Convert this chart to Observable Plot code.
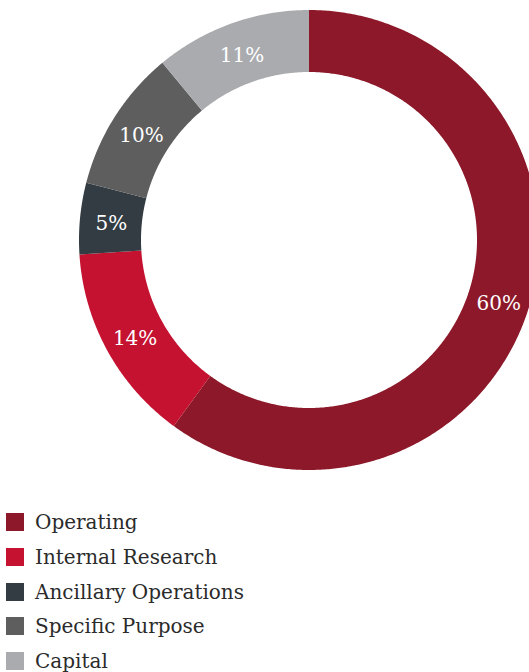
<!DOCTYPE html>
<html>
<head>
<meta charset="utf-8">
<script src="https://cdn.jsdelivr.net/npm/d3@7"></script>
<script src="https://cdn.jsdelivr.net/npm/@observablehq/plot@0.6"></script>
<style>
  html, body { margin: 0; padding: 0; background: #fff; }
  #chart svg { display: block; }
  .legend { font-family: "DejaVu Serif", serif; font-size: 20px; color: #2b2b2b; margin: 0; padding: 0; }
  .legend .row { display: flex; align-items: center; height: 34.7px; }
  .legend .sw { width: 18px; height: 18px; margin-left: 6px; margin-right: 11px; flex: none; }
</style>
</head>
<body>
<div id="chart"></div>
<script>
const categories = ["Operating", "Internal Research", "Ancillary Operations", "Specific Purpose", "Capital"];
const values = [60, 14, 5, 10, 11];
const colors = ["#8C1829", "#C41230", "#323C42", "#5E5E5E", "#AAABAE"];

const W = 529, H = 500;
const CX = 309, CY = 240;
const R_OUT = 230, R_IN = 168;

const pie = d3.pie().sort(null).value(d => d.value);
const arcs = pie(categories.map((c, i) => ({category: c, value: values[i]})));

// ring-sector outlines (outer edge & inner edge) for Plot.area
const ring = [];
for (const a of arcs) {
  const n = Math.max(2, Math.ceil((a.endAngle - a.startAngle) / (Math.PI / 360)));
  for (let k = 0; k <= n; k++) {
    const t = a.startAngle + (a.endAngle - a.startAngle) * k / n;
    ring.push({
      category: a.data.category,
      xo: R_OUT * Math.sin(t), yo: R_OUT * Math.cos(t),
      xi: R_IN * Math.sin(t), yi: R_IN * Math.cos(t)
    });
  }
}
const labels = arcs.map(a => {
  const t = (a.startAngle + a.endAngle) / 2, r = (R_OUT + R_IN) / 2;
  return {label: a.data.value + "%", x: r * Math.sin(t), y: r * Math.cos(t)};
});

const plot = Plot.plot({
  width: W, height: H,
  margin: 0,
  x: {domain: [-CX, W - CX], range: [0, W], axis: null},
  y: {domain: [-(H - CY), CY], range: [H, 0], axis: null},
  color: {domain: categories, range: colors},
  marks: [
    Plot.area(ring, {x1: "xo", y1: "yo", x2: "xi", y2: "yi", fill: "category", z: "category"}),
    Plot.text(labels, {x: "x", y: "y", text: "label", fill: "white",
      fontFamily: "DejaVu Serif, serif", fontSize: 20, dy: 2})
  ]
});
document.getElementById("chart").appendChild(plot);

const legend = document.createElement("div");
legend.className = "legend";
categories.forEach((c, i) => {
  const row = document.createElement("div");
  row.className = "row";
  const sw = document.createElement("span");
  sw.className = "sw";
  sw.style.background = colors[i];
  const tx = document.createElement("span");
  tx.textContent = c;
  row.appendChild(sw); row.appendChild(tx);
  legend.appendChild(row);
});
legend.style.marginTop = "5px";
document.getElementById("chart").appendChild(legend);
</script>
</body>
</html>
